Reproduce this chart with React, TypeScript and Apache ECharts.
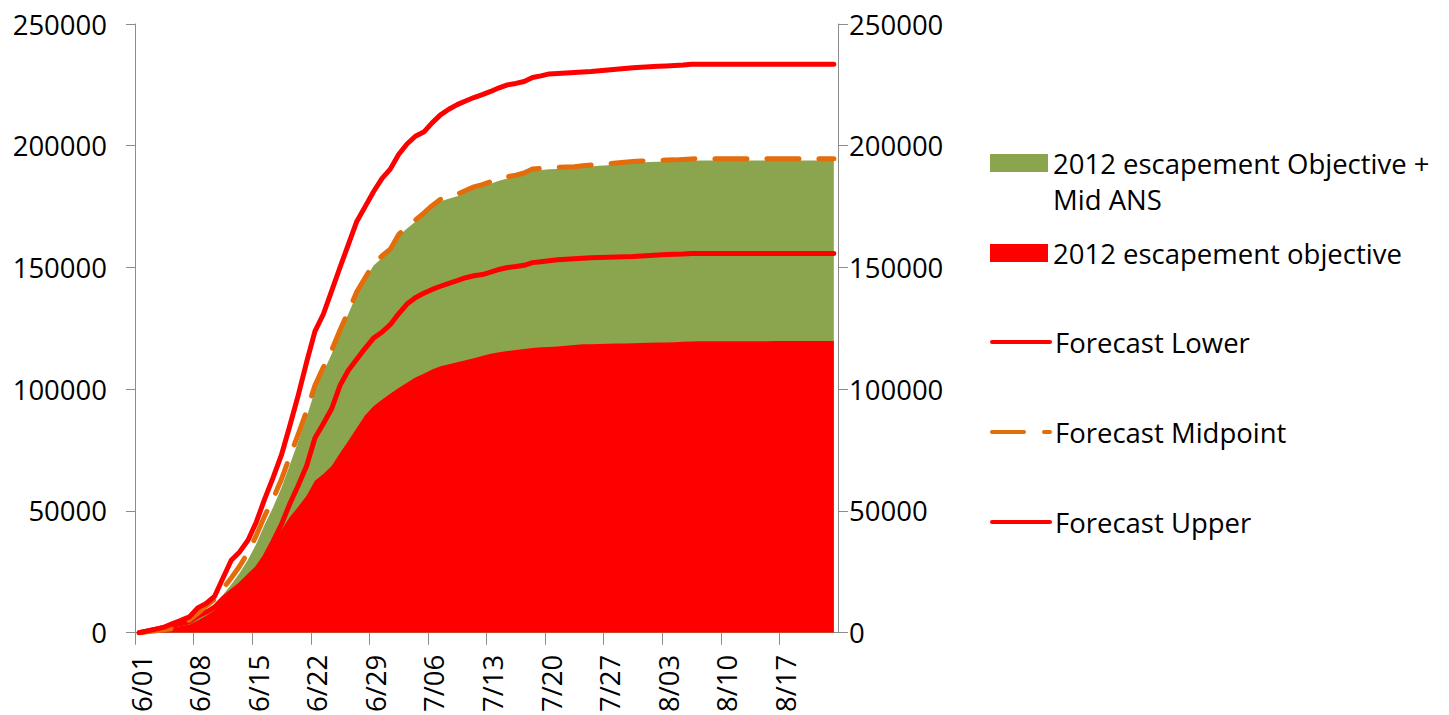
import React, { useEffect, useRef } from "react";
import * as echarts from "echarts";

// Week tick labels on the date axis (one every 7 days, starting 6/01)
const tickLabels = ["6/01", "6/08", "6/15", "6/22", "6/29", "7/06", "7/13", "7/20", "7/27", "8/03", "8/10", "8/17"];

// Daily values, 6/01 .. 8/23 (84 days)
const objective = [
  0, 500, 1000, 1600, 2200, 2800, 3300, 5000, 7000, 9200,
  12800, 16500, 20800, 24300, 27500, 32200, 37000, 42200, 47500, 51700,
  56300, 62400, 65200, 68500, 73800, 78800, 84100, 89300, 93000, 95700,
  98200, 100500, 102700, 104800, 106400, 108100, 109400, 110300, 111100, 111900,
  112700, 113700, 114600, 115200, 115700, 116100, 116500, 116900, 117200, 117400,
  117600, 117900, 118200, 118500, 118500, 118600, 118700, 118800, 118800, 118900,
  119000, 119100, 119200, 119200, 119300, 119500, 119600, 119700, 119700, 119700,
  119700, 119700, 119700, 119700, 119700, 119700, 119800, 119800, 119800, 119800,
  119800, 119800, 119800, 119800,
];

const objectivePlusMidANS = [
  0, 300, 600, 1000, 1500, 2800, 4300, 6500, 9000, 11800,
  15500, 19800, 24500, 30000, 36500, 44500, 51500, 59500, 69000, 78500,
  88500, 99500, 107000, 114500, 123000, 131000, 139000, 145000, 150800, 153800,
  156800, 162800, 166000, 168800, 171600, 174700, 177200, 178200, 179300, 180800,
  182300, 183200, 184400, 185600, 186500, 187100, 188000, 189600, 190000, 190300,
  190500, 190700, 190800, 191200, 191500, 191800, 192000, 192300, 192600, 192900,
  193100, 193300, 193400, 193500, 193600, 193700, 193800, 193900, 193900, 193900,
  193900, 193900, 193900, 193900, 193900, 193900, 193900, 193900, 193900, 193900,
  193900, 193900, 193900, 193900,
];

const forecastLower = [
  0, 700, 1500, 2200, 3000, 3800, 4500, 6800, 8500, 10500,
  14000, 16800, 19500, 22600, 26000, 31000, 37500, 44500, 53000, 60500,
  68500, 80000, 85800, 92000, 101600, 107800, 112300, 116800, 121000, 123400,
  126500, 131000, 135000, 137600, 139400, 141000, 142300, 143500, 144600, 145800,
  146600, 147100, 148100, 149200, 150000, 150400, 150900, 152000, 152400, 152800,
  153200, 153400, 153600, 153800, 154000, 154100, 154200, 154300, 154400, 154500,
  154700, 154900, 155100, 155300, 155400, 155500, 155700, 155700, 155700, 155700,
  155700, 155700, 155700, 155700, 155700, 155700, 155700, 155700, 155700, 155700,
  155700, 155700, 155700, 155700,
];

const forecastMidpoint = [
  0, 400, 800, 1200, 1700, 3400, 5200, 8000, 11000, 13700,
  18000, 22500, 27300, 33000, 40000, 48000, 55000, 63000, 72500, 81500,
  91000, 101500, 109000, 116000, 124300, 132000, 140000, 145800, 151500, 154700,
  157500, 163500, 166800, 169500, 172300, 175400, 178000, 179000, 180100, 181600,
  183100, 184000, 185200, 186400, 187300, 187900, 188800, 190500, 190700, 191000,
  191100, 191300, 191400, 191800, 192100, 192400, 192600, 192900, 193200, 193500,
  193700, 193900, 194000, 194100, 194200, 194400, 194600, 194700, 194700, 194700,
  194700, 194700, 194700, 194700, 194700, 194700, 194700, 194700, 194700, 194700,
  194700, 194700, 194700, 194700,
];

const forecastUpper = [
  0, 750, 1500, 2300, 3800, 5100, 6500, 10200, 12000, 14900,
  22400, 29800, 33200, 38000, 45500, 55000, 63700, 73000, 85000, 97500,
  111000, 123800, 130800, 140400, 150100, 159500, 168900, 175000, 181100, 186500,
  190400, 196400, 200700, 203900, 205600, 209400, 212700, 215000, 216900, 218400,
  219800, 221000, 222300, 223800, 225000, 225600, 226400, 228000, 228700, 229500,
  229700, 229900, 230100, 230300, 230500, 230800, 231100, 231400, 231700, 232000,
  232200, 232400, 232600, 232800, 233000, 233200, 233500, 233500, 233500, 233500,
  233500, 233500, 233500, 233500, 233500, 233500, 233500, 233500, 233500, 233500,
  233500, 233500, 233500, 233500,
];

const yTicks = { min: 0, max: 250000, interval: 50000 };

const FONT = "'Open Sans', sans-serif";
const FS = 27.5;
const GREEN = "#8BA54E";
const RED = "#FF0000";
const ORANGE = "#E46C0A";
const AXIS = "#8C8C8C";

// each day is plotted in the middle of its one-day slot on the date axis
const toPoints = (vals: number[]) => vals.map((v, i) => [i + 0.5, v]);

export default function App() {
  const ref = useRef<HTMLDivElement>(null);

  useEffect(() => {
    document.body.style.margin = "0";
    if (!ref.current) return;
    const chart = echarts.init(ref.current, undefined, { renderer: "svg" });

    const legendBase = {
      orient: "vertical" as const,
      left: 990,
      itemWidth: 58,
      itemHeight: 18,
      padding: 0,
      selectedMode: false,
      textStyle: { fontFamily: FONT, fontSize: FS, color: "#000", lineHeight: 36 },
    };
    const hiddenSymbol = { color: "rgba(0,0,0,0)", borderWidth: 0, opacity: 0 };

    const axisLineStyle = { color: AXIS, width: 1 };

    chart.setOption({
      animation: false,
      backgroundColor: "#fff",
      grid: { left: 135, right: 611, top: 24, bottom: 81, containLabel: false },
      xAxis: {
        type: "value",
        min: 0,
        max: 84,
        interval: 7,
        axisLine: { show: true, onZero: false, lineStyle: axisLineStyle },
        axisTick: { show: true, length: 12, lineStyle: axisLineStyle },
        splitLine: { show: false },
        axisLabel: {
          rotate: 90,
          margin: 22,
          fontFamily: FONT,
          fontSize: FS,
          color: "#000",
          verticalAlign: "top",
          lineHeight: 12,
          showMaxLabel: false,
          formatter: (v: number) => tickLabels[Math.round(v / 7)] ?? "",
        },
      },
      yAxis: [
        {
          type: "value",
          position: "left",
          ...yTicks,
          axisLine: { show: true, lineStyle: axisLineStyle },
          axisTick: { show: true, length: 9, lineStyle: axisLineStyle },
          splitLine: { show: false },
          axisLabel: { margin: 28, fontFamily: FONT, fontSize: FS, color: "#000", formatter: (v: number) => String(v) },
        },
        {
          type: "value",
          position: "right",
          ...yTicks,
          axisLine: { show: true, lineStyle: axisLineStyle },
          axisTick: { show: true, length: 10, lineStyle: axisLineStyle },
          splitLine: { show: false },
          axisLabel: { margin: 11, fontFamily: FONT, fontSize: FS, color: "#000", formatter: (v: number) => String(v) },
        },
      ],
      legend: [
        {
          ...legendBase,
          top: 145,
          data: [{ name: "2012 escapement Objective + Mid ANS", icon: "rect" }],
          formatter: () => "2012 escapement Objective +",
        },
        {
          ...legendBase,
          top: 235,
          data: [{ name: "2012 escapement objective", icon: "rect" }],
        },
        {
          ...legendBase,
          top: 324,
          data: ["Forecast Lower"],
          itemStyle: hiddenSymbol,
          lineStyle: { width: 4, color: RED, cap: "round" },
        },
        {
          ...legendBase,
          top: 414,
          data: ["Forecast Midpoint"],
          itemStyle: hiddenSymbol,
          lineStyle: { width: 4, color: ORANGE, type: [32, 20], cap: "round" },
        },
        {
          ...legendBase,
          top: 504,
          data: ["Forecast Upper"],
          itemStyle: hiddenSymbol,
          lineStyle: { width: 4, color: RED, cap: "round" },
        },
      ],
      graphic: [
        {
          type: "text",
          left: 1053,
          top: 185,
          style: { text: "Mid ANS", fontFamily: FONT, fontSize: FS, fill: "#000" },
        },
      ],
      series: [
        {
          name: "2012 escapement Objective + Mid ANS",
          type: "line",
          data: toPoints(objectivePlusMidANS),
          symbol: "none",
          lineStyle: { width: 0 },
          itemStyle: { color: GREEN },
          areaStyle: { color: GREEN, opacity: 1 },
          emphasis: { disabled: true },
          z: 1,
        },
        {
          name: "2012 escapement objective",
          type: "line",
          data: toPoints(objective),
          symbol: "none",
          lineStyle: { width: 0 },
          itemStyle: { color: RED },
          areaStyle: { color: RED, opacity: 1 },
          emphasis: { disabled: true },
          z: 2,
        },
        {
          name: "Forecast Lower",
          type: "line",
          data: toPoints(forecastLower),
          symbol: "none",
          itemStyle: { color: RED },
          lineStyle: { color: RED, width: 5, cap: "round", join: "round" },
          emphasis: { disabled: true },
          z: 3,
        },
        {
          name: "Forecast Midpoint",
          type: "line",
          data: toPoints(forecastMidpoint),
          symbol: "none",
          itemStyle: { color: ORANGE },
          lineStyle: { color: ORANGE, width: 5, type: [32, 20], cap: "round", join: "round" },
          emphasis: { disabled: true },
          z: 4,
        },
        {
          name: "Forecast Upper",
          type: "line",
          data: toPoints(forecastUpper),
          symbol: "none",
          itemStyle: { color: RED },
          lineStyle: { color: RED, width: 5, cap: "round", join: "round" },
          emphasis: { disabled: true },
          z: 5,
        },
      ],
    });

    return () => chart.dispose();
  }, []);

  return <div ref={ref} style={{ width: 1449, height: 715 }} />;
}
